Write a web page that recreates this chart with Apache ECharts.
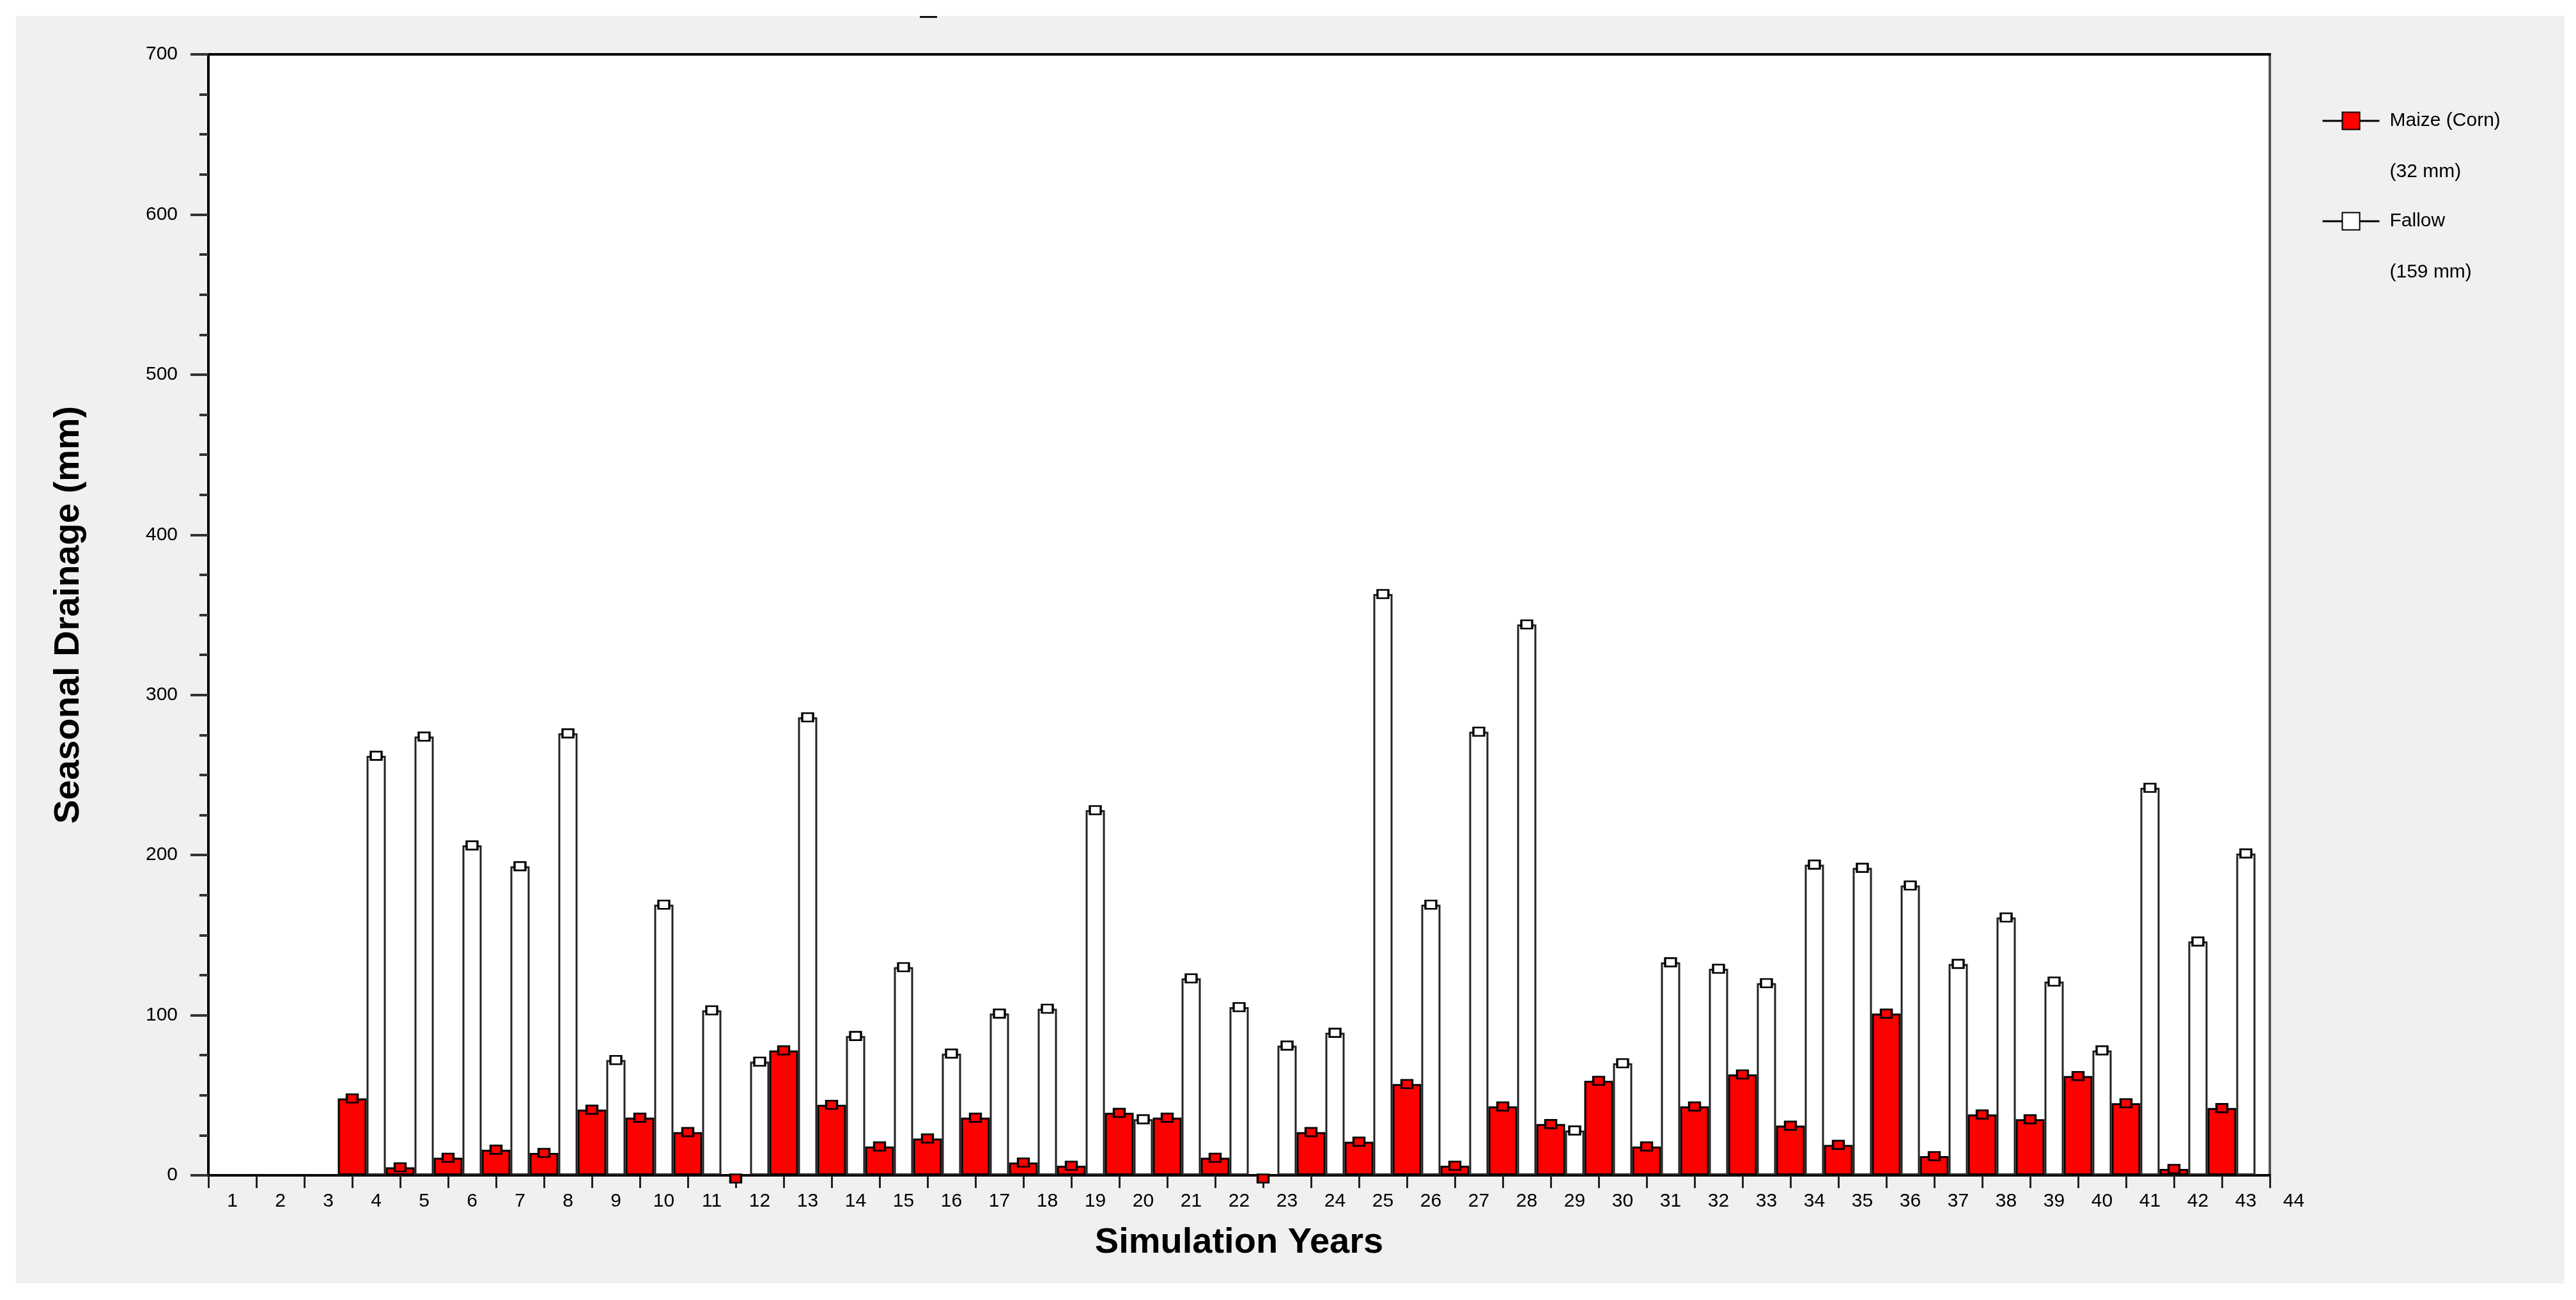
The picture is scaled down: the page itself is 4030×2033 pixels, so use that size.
<!DOCTYPE html>
<html>
<head>
<meta charset="utf-8">
<script src="https://cdn.jsdelivr.net/npm/echarts@6/dist/echarts.min.js"></script>
<style>
html,body{margin:0;padding:0;background:#ffffff;width:4030px;height:2033px;overflow:hidden}
#chart{position:absolute;left:25px;top:25px;width:3987px;height:1982px;background:#f0f0f0}
</style>
</head>
<body>
<div id="chart"></div>
<script>
// ---- data ----
const xTickLabels = ['1','2','3','4','5','6','7','8','9','10','11','12','13','14','15','16','17','18','19','20','21','22','23','24','25','26','27','28','29','30','31','32','33','34','35','36','37','38','39','40','41','42','43','44'];
const yearTicks = [3,4,5,6,7,8,9,10,11,12,13,14,15,16,17,18,19,20,21,22,23,24,25,26,27,28,29,30,31,32,33,34,35,36,37,38,39,40,41,42];
const maize = [48,5,11,16,14,41,36,27,-2,78,44,18,23,36,8,6,39,36,11,-2,27,21,57,6,43,32,59,18,43,63,31,19,101,12,38,35,62,45,4,42];
const fallow = [262,274,206,193,276,72,169,103,71,286,87,130,76,101,104,228,35,123,105,81,89,363,169,277,344,28,70,133,129,120,194,192,181,132,161,121,78,242,146,201];
const legendNames = ['Maize (Corn)', 'Fallow'];
const legendMeans = ['(32 mm)', '(159 mm)'];
const yTickLabels = ['0','100','200','300','400','500','600','700'];

// ---- chart ----
const FONT = '"Liberation Sans", Arial, sans-serif';
const pairs = vals => yearTicks.map((t, i) => [t, vals[i]]);
const chart = echarts.init(document.getElementById('chart'), null, {renderer: 'canvas'});

const legendBase = (i, top) => ({
  data: [legendNames[i]],
  orient: 'vertical',
  left: 3607,
  top: top,
  padding: 0,
  itemWidth: 89,
  itemHeight: 34,
  selectedMode: false,
  formatter: name => '{s| }\n{a|' + name + '}\n{b|' + legendMeans[i] + '}',
  lineStyle: {color: '#000', width: 3, opacity: 1, type: 'solid'},
  textStyle: {
    fontSize: 30, fontFamily: FONT, color: '#000',
    rich: {
      s: {lineHeight: 120, fontSize: 30, fontFamily: FONT, padding: [0,0,0,11]},
      a: {lineHeight: 40, fontSize: 30, fontFamily: FONT, color: '#000', padding: [0,0,0,11]},
      b: {lineHeight: 120, fontSize: 30, fontFamily: FONT, color: '#000', padding: [0,0,0,11]}
    }
  }
});

const option = {
  animation: false,
  backgroundColor: '#f0f0f0',
  graphic: [{type: 'rect', left: 1414, top: 0, shape: {width: 27, height: 3}, style: {fill: '#111'}}],
  grid: {left: 301, top: 60, width: 3225, height: 1753, show: true, backgroundColor: '#ffffff', borderColor: '#555', borderWidth: 4},
  legend: [legendBase(0, 69), legendBase(1, 226)],
  xAxis: [
    {
      type: 'value', min: 0, max: 43, interval: 1, position: 'bottom',
      axisLine: {show: true, onZero: false, lineStyle: {color: '#000', width: 4}},
      axisTick: {show: true, length: 20, lineStyle: {color: '#222', width: 3}},
      axisLabel: {
        show: true, margin: 26, fontSize: 30, fontFamily: FONT, color: '#000',
        formatter: v => '{t|' + xTickLabels[v] + '}',
        rich: {t: {fontSize: 30, fontFamily: FONT, color: '#000', padding: [0, 0, 0, 75]}}
      },
      splitLine: {show: false},
      name: 'Simulation Years', nameLocation: 'middle', nameGap: 78,
      nameTextStyle: {fontSize: 56, fontWeight: 'bold', fontFamily: FONT, color: '#000'}
    },
    {
      type: 'value', min: -0.5, max: 42.5, position: 'bottom', show: false,
      axisLine: {onZero: false}
    },
    {
      type: 'value', min: 0, max: 43, position: 'top',
      axisLine: {show: true, onZero: false, lineStyle: {color: '#000', width: 4}},
      axisTick: {show: false}, axisLabel: {show: false}, splitLine: {show: false}
    }
  ],
  yAxis: [{
    type: 'value', min: 0, max: 700, interval: 100, position: 'left',
    axisLine: {show: true, onZero: false, lineStyle: {color: '#000', width: 4}},
    axisTick: {show: true, length: 28, lineStyle: {color: '#333', width: 4}},
    minorTick: {show: true, splitNumber: 4, length: 14, lineStyle: {color: '#333', width: 4}},
    axisLabel: {margin: 48, fontSize: 30, fontFamily: FONT, color: '#000', formatter: v => yTickLabels[Math.round(v / 100)]},
    splitLine: {show: false},
    minorSplitLine: {show: false},
    name: 'Seasonal Drainage (mm)', nameLocation: 'middle', nameGap: 190, nameRotate: 90,
    nameTextStyle: {fontSize: 56, fontWeight: 'bold', fontFamily: FONT, color: '#000'}
  }],
  series: [
    {
      name: 'maizeBars', type: 'bar', xAxisIndex: 0, yAxisIndex: 0, barWidth: 45,
      data: pairs(maize), silent: true, clip: true, z: 2,
      itemStyle: {color: '#ff0000', borderColor: '#000', borderWidth: 3}
    },
    {
      name: 'fallowBars', type: 'bar', xAxisIndex: 1, yAxisIndex: 0, barWidth: 30,
      data: pairs(fallow), silent: true, clip: true, z: 2,
      itemStyle: {color: '#ffffff', borderColor: '#222', borderWidth: 3}
    },
    {
      name: legendNames[0], type: 'line', xAxisIndex: 0, yAxisIndex: 0,
      data: pairs(maize), symbol: 'rect', symbolSize: [17, 13], showSymbol: true, showAllSymbol: true,
      clip: false, silent: true, z: 5,
      lineStyle: {width: 0, opacity: 0},
      itemStyle: {color: '#ff0000', borderColor: '#000', borderWidth: 3}
    },
    {
      name: legendNames[1], type: 'line', xAxisIndex: 1, yAxisIndex: 0,
      data: pairs(fallow), symbol: 'rect', symbolSize: [17, 13], showSymbol: true, showAllSymbol: true,
      clip: false, silent: true, z: 5,
      lineStyle: {width: 0, opacity: 0},
      itemStyle: {color: '#ffffff', borderColor: '#000', borderWidth: 3}
    }
  ]
};
chart.setOption(option);
</script>
</body>
</html>
